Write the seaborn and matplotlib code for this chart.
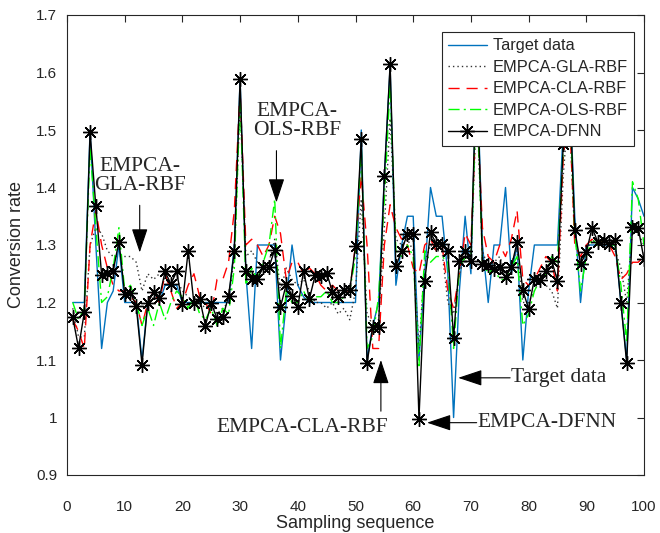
import numpy as np
import pandas as pd
import matplotlib
matplotlib.use("Agg")
import matplotlib.pyplot as plt
import seaborn as sns

x = list(range(1, 101))

target = [1.20, 1.20, 1.20, 1.50, 1.30, 1.12, 1.20, 1.22, 1.30, 1.20,
          1.20, 1.20, 1.10, 1.20, 1.22, 1.20, 1.23, 1.23, 1.23, 1.20,
          1.20, 1.20, 1.20, 1.20, 1.20, 1.20, 1.20, 1.20, 1.30, 1.59,
          1.25, 1.12, 1.30, 1.30, 1.30, 1.30, 1.10, 1.20, 1.30, 1.23,
          1.21, 1.20, 1.20, 1.20, 1.20, 1.20, 1.20, 1.20, 1.20, 1.20,
          1.50, 1.10, 1.16, 1.20, 1.42, 1.61, 1.23, 1.30, 1.35, 1.35,
          1.10, 1.25, 1.40, 1.35, 1.35, 1.25, 1.00, 1.22, 1.35, 1.25,
          1.62, 1.30, 1.20, 1.30, 1.30, 1.40, 1.25, 1.30, 1.10, 1.22,
          1.30, 1.30, 1.30, 1.30, 1.30, 1.50, 1.60, 1.35, 1.20, 1.30,
          1.30, 1.30, 1.30, 1.30, 1.30, 1.20, 1.10, 1.40, 1.38, 1.35]

gla = [1.19, 1.14, 1.14, 1.30, 1.33, 1.32, 1.29, 1.28, 1.28, 1.28,
       1.28, 1.27, 1.22, 1.25, 1.24, 1.25, 1.24, 1.23, 1.24, 1.22,
       1.21, 1.20, 1.20, 1.19, 1.20, 1.18, 1.19, 1.20, 1.28, 1.55,
       1.28, 1.29, 1.27, 1.26, 1.27, 1.31, 1.22, 1.26, 1.24, 1.23,
       1.24, 1.22, 1.20, 1.20, 1.19, 1.20, 1.18, 1.19, 1.17, 1.22,
       1.38, 1.18, 1.16, 1.17, 1.33, 1.52, 1.31, 1.30, 1.31, 1.29,
       1.12, 1.27, 1.30, 1.29, 1.29, 1.20, 1.18, 1.25, 1.28, 1.27,
       1.55, 1.29, 1.26, 1.27, 1.28, 1.25, 1.27, 1.29, 1.20, 1.20,
       1.22, 1.24, 1.23, 1.22, 1.19, 1.42, 1.55, 1.31, 1.27, 1.29,
       1.31, 1.30, 1.31, 1.30, 1.29, 1.26, 1.20, 1.33, 1.32, 1.30]

cla = [1.17, 1.15, 1.12, 1.30, 1.36, 1.30, 1.26, 1.23, 1.22, 1.22,
       1.21, 1.20, 1.16, 1.20, 1.22, 1.20, 1.25, 1.22, 1.19, 1.20,
       1.23, 1.25, 1.21, 1.20, 1.18, 1.24, 1.24, 1.27, 1.36, 1.57,
       1.30, 1.31, 1.30, 1.28, 1.30, 1.35, 1.32, 1.24, 1.27, 1.27,
       1.25, 1.26, 1.25, 1.23, 1.22, 1.23, 1.22, 1.22, 1.22, 1.30,
       1.42, 1.30, 1.12, 1.12, 1.30, 1.37, 1.33, 1.31, 1.30, 1.26,
       1.25, 1.30, 1.31, 1.29, 1.30, 1.22, 1.19, 1.25, 1.32, 1.30,
       1.55, 1.33, 1.28, 1.27, 1.30, 1.28, 1.31, 1.36, 1.24, 1.23,
       1.24, 1.26, 1.28, 1.27, 1.22, 1.45, 1.55, 1.30, 1.28, 1.30,
       1.31, 1.30, 1.31, 1.30, 1.28, 1.24, 1.25, 1.27, 1.27, 1.28]

ols = [1.20, 1.17, 1.19, 1.47, 1.33, 1.20, 1.21, 1.26, 1.33, 1.22,
       1.23, 1.20, 1.16, 1.19, 1.16, 1.20, 1.17, 1.20, 1.22, 1.21,
       1.19, 1.21, 1.18, 1.17, 1.19, 1.16, 1.19, 1.18, 1.26, 1.56,
       1.23, 1.26, 1.24, 1.27, 1.30, 1.38, 1.12, 1.22, 1.20, 1.20,
       1.22, 1.20, 1.21, 1.21, 1.22, 1.20, 1.20, 1.21, 1.22, 1.28,
       1.47, 1.12, 1.14, 1.21, 1.38, 1.58, 1.29, 1.28, 1.30, 1.28,
       1.09, 1.29, 1.27, 1.28, 1.28, 1.27, 1.12, 1.26, 1.28, 1.27,
       1.58, 1.27, 1.25, 1.26, 1.24, 1.24, 1.26, 1.28, 1.16, 1.18,
       1.22, 1.24, 1.25, 1.28, 1.27, 1.47, 1.58, 1.32, 1.22, 1.28,
       1.31, 1.30, 1.31, 1.30, 1.30, 1.23, 1.13, 1.41, 1.38, 1.30]

dfnn = [1.174, 1.121, 1.183, 1.496, 1.367, 1.248, 1.252, 1.255, 1.306, 1.215,
        1.217, 1.194, 1.092, 1.199, 1.218, 1.208, 1.254, 1.232, 1.254, 1.197,
        1.290, 1.199, 1.206, 1.160, 1.199, 1.172, 1.174, 1.211, 1.290, 1.588,
        1.254, 1.241, 1.241, 1.261, 1.261, 1.292, 1.192, 1.232, 1.212, 1.192,
        1.255, 1.206, 1.247, 1.246, 1.252, 1.218, 1.209, 1.221, 1.221, 1.298,
        1.484, 1.095, 1.158, 1.158, 1.420, 1.615, 1.263, 1.290, 1.320, 1.320,
        0.998, 1.238, 1.322, 1.302, 1.302, 1.290, 1.139, 1.273, 1.289, 1.273,
        1.620, 1.267, 1.265, 1.258, 1.262, 1.244, 1.261, 1.305, 1.221, 1.189,
        1.241, 1.240, 1.254, 1.273, 1.238, 1.475, 1.600, 1.326, 1.267, 1.287,
        1.330, 1.305, 1.309, 1.301, 1.308, 1.199, 1.094, 1.332, 1.330, 1.275]

series_names = ["Target data", "EMPCA-GLA-RBF", "EMPCA-CLA-RBF",
                "EMPCA-OLS-RBF", "EMPCA-DFNN"]
xticks = list(range(0, 101, 10))
yticks = [0.9, 1.0, 1.1, 1.2, 1.3, 1.4, 1.5, 1.6, 1.7]
ytick_labels = ["0.9", "1", "1.1", "1.2", "1.3", "1.4", "1.5", "1.6", "1.7"]

sns.set_style("white")
plt.rcParams["font.family"] = ["Liberation Sans", "DejaVu Sans"]

fig = plt.figure(figsize=(6.6, 5.33), dpi=100)
ax = fig.add_axes([67 / 660, 1 - 475 / 533, (644 - 67) / 660, (475 - 15) / 533])

df = pd.DataFrame({"x": x, "target": target, "gla": gla, "cla": cla,
                   "ols": ols, "dfnn": dfnn})

sns.lineplot(data=df, x="x", y="target", ax=ax, color="#0072BD", lw=1.0,
             label=series_names[0])
sns.lineplot(data=df, x="x", y="gla", ax=ax, color="#333333", lw=1.0,
             linestyle=(0, (1, 2.2)), label=series_names[1])
sns.lineplot(data=df, x="x", y="cla", ax=ax, color="#FF0000", lw=1.0,
             linestyle=(0, (8, 5)), label=series_names[2])
sns.lineplot(data=df, x="x", y="ols", ax=ax, color="#00FF00", lw=1.0,
             linestyle=(0, (8, 3, 1.5, 3)), label=series_names[3])
sns.lineplot(data=df, x="x", y="dfnn", ax=ax, color="black", lw=1.0,
             marker=(8, 2, 0), markersize=10.5, markeredgewidth=1.0,
             markeredgecolor="black", label=series_names[4])

ax.set_xlim(0, 100)
ax.set_ylim(0.9, 1.7)
ax.set_xticks(xticks)
ax.set_xticklabels([str(t) for t in xticks])
ax.set_yticks(yticks)
ax.set_yticklabels(ytick_labels)
ax.tick_params(direction="in", length=5, width=0.8, top=True, right=True,
               labelsize=11, colors="#262626")
ax.tick_params(axis="y", pad=7)
ax.tick_params(axis="x", pad=18)
for s in ax.spines.values():
    s.set_visible(True)
    s.set_color("#262626")
    s.set_linewidth(0.8)
ax.set_xlabel("Sampling sequence", fontsize=13, color="#262626", labelpad=1)
ax.set_ylabel("Conversion rate", fontsize=13, color="#262626", labelpad=8)

leg = ax.legend(loc="upper right", bbox_to_anchor=(0.983, 0.963),
                fontsize=11.8, frameon=True, fancybox=False,
                framealpha=1, edgecolor="#262626", borderpad=0.38,
                labelspacing=0.4, handlelength=2.4, handletextpad=0.35,
                borderaxespad=0)
leg.get_frame().set_linewidth(0.8)

serif = ["Liberation Serif", "DejaVu Serif"]
aprops = dict(arrowstyle="-|>,head_length=1.5,head_width=0.5", color="black",
              lw=0.8, mutation_scale=10, shrinkA=0, shrinkB=0)

ax.annotate("", xy=(12.6, 1.287), xytext=(12.6, 1.369), arrowprops=aprops)
ax.text(12.6, 1.42, "EMPCA-\nGLA-RBF", ha="center", va="center",
        fontsize=15.5, family=serif, linespacing=1.0)

ax.annotate("", xy=(36.3, 1.374), xytext=(36.3, 1.464), arrowprops=aprops)
ax.text(39.9, 1.515, "EMPCA-\nOLS-RBF", ha="center", va="center",
        fontsize=15.5, family=serif, linespacing=1.0)

ax.annotate("", xy=(54.4, 1.10), xytext=(54.4, 1.011), arrowprops=aprops)
ax.text(40.7, 0.982, "EMPCA-CLA-RBF", ha="center", va="center",
        fontsize=15.5, family=serif)

ax.annotate("", xy=(67.8, 1.069), xytext=(76.8, 1.069), arrowprops=aprops)
ax.text(76.9, 1.069, "Target data", ha="left", va="center",
        fontsize=15.5, family=serif)

ax.annotate("", xy=(62.4, 0.991), xytext=(71.0, 0.991), arrowprops=aprops)
ax.text(71.1, 0.991, "EMPCA-DFNN", ha="left", va="center",
        fontsize=15.5, family=serif)

fig.savefig("out.png", dpi=100)
